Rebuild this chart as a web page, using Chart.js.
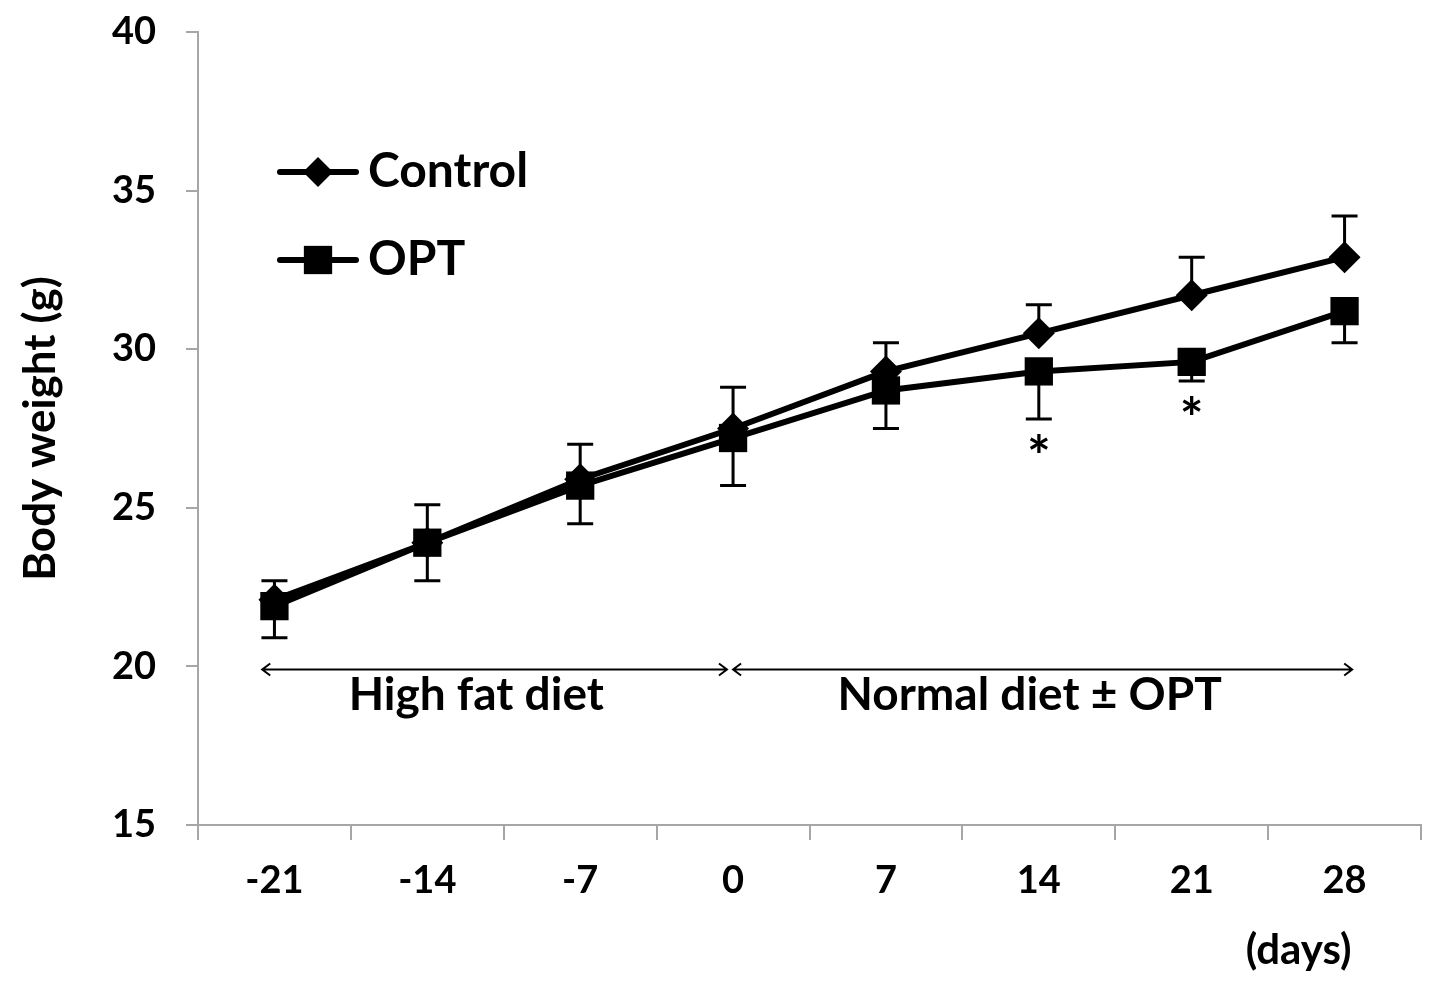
<!DOCTYPE html>
<html>
<head>
<meta charset="utf-8">
<script src="https://cdn.jsdelivr.net/npm/chart.js@4.4.0/dist/chart.umd.min.js"></script>
<style>
  html, body { margin: 0; padding: 0; background: #fff; }
  #wrap { width: 1441px; height: 989px; position: relative; }
</style>
</head>
<body>
<div id="wrap"><canvas id="weightChart"></canvas></div>
<script>
// datos
const days = ['-21', '-14', '-7', '0', '7', '14', '21', '28'];
const controlWeight = [22.1, 23.9, 25.9, 27.5, 29.3, 30.5, 31.7, 32.9];
const controlErrUp = [0.6, 1.2, 1.1, 1.3, 0.9, 0.9, 1.2, 1.3];
const optWeight = [21.9, 23.9, 25.7, 27.2, 28.7, 29.3, 29.6, 31.2];
const optErrDown = [1.0, 1.2, 1.2, 1.5, 1.2, 1.5, 0.6, 1.0];
const yTicks = [15, 20, 25, 30, 35, 40];
const significant = [
  { day: '14', y: 27.0 },
  { day: '21', y: 28.2 }
];
const phases = [
  { label: 'High fat diet', from: -0.08, to: 2.96, textAt: 1.32 },
  { label: 'Normal diet \u00B1 OPT', from: 3.0, to: 7.05, textAt: 4.94 }
];

const FONT = 'Lato, "Open Sans", sans-serif';
const AXIS_GREY = '#a6a6a6';

// barras de error + flechas + textos + leyenda
const extras = {
  id: 'extras',
  beforeDatasetsDraw(chart) {
    const ctx = chart.ctx;
    const x = chart.scales.x, y = chart.scales.y;
    ctx.save();
    ctx.strokeStyle = '#000';
    ctx.lineWidth = 3;
    const cap = 13;
    days.forEach((d, i) => {
      const px = x.getPixelForValue(i);
      // control: solo hacia arriba
      let y0 = y.getPixelForValue(controlWeight[i]);
      let y1 = y.getPixelForValue(controlWeight[i] + controlErrUp[i]);
      ctx.beginPath();
      ctx.moveTo(px, y0); ctx.lineTo(px, y1);
      ctx.moveTo(px - cap, y1); ctx.lineTo(px + cap, y1);
      ctx.stroke();
      // OPT: solo hacia abajo
      y0 = y.getPixelForValue(optWeight[i]);
      y1 = y.getPixelForValue(optWeight[i] - optErrDown[i]);
      ctx.beginPath();
      ctx.moveTo(px, y0); ctx.lineTo(px, y1);
      ctx.moveTo(px - cap, y1); ctx.lineTo(px + cap, y1);
      ctx.stroke();
    });
    ctx.restore();
  },
  afterDraw(chart) {
    const ctx = chart.ctx;
    const x = chart.scales.x, y = chart.scales.y;
    const area = chart.chartArea;
    ctx.save();

    // flechas de las fases
    const arrowY = y.getPixelForValue(19.9);
    ctx.strokeStyle = '#000';
    ctx.lineWidth = 2;
    phases.forEach(p => {
      const a = x.getPixelForValue(p.from);
      const b = x.getPixelForValue(p.to);
      ctx.beginPath();
      ctx.moveTo(a, arrowY); ctx.lineTo(b, arrowY);
      ctx.moveTo(a + 8, arrowY - 6); ctx.lineTo(a, arrowY); ctx.lineTo(a + 8, arrowY + 6);
      ctx.moveTo(b - 8, arrowY - 6); ctx.lineTo(b, arrowY); ctx.lineTo(b - 8, arrowY + 6);
      ctx.stroke();
      ctx.fillStyle = '#000';
      ctx.font = 'bold 46px ' + FONT;
      ctx.textAlign = 'center';
      ctx.textBaseline = 'middle';
      ctx.fillText(p.label, x.getPixelForValue(p.textAt), y.getPixelForValue(19.1));
    });

    // asteriscos
    ctx.font = 'bold 56px ' + FONT;
    ctx.textAlign = 'center';
    ctx.textBaseline = 'middle';
    significant.forEach(s => {
      ctx.fillText('*', x.getPixelForValue(s.day), y.getPixelForValue(s.y) + 14);
    });

    // leyenda
    const legendItems = [
      { label: 'Control', style: 'rectRot', r: 15 },
      { label: 'OPT', style: 'rect', r: 20 }
    ];
    legendItems.forEach((it, k) => {
      const ly = area.top + 140 + k * 88;
      const lx = area.left + 82;
      ctx.strokeStyle = '#000';
      ctx.lineWidth = 6;
      ctx.lineCap = 'round';
      ctx.beginPath();
      ctx.moveTo(lx, ly); ctx.lineTo(lx + 76, ly);
      ctx.stroke();
      ctx.fillStyle = '#000';
      Chart.helpers.drawPoint(ctx, { pointStyle: it.style, radius: it.r, borderWidth: 0 }, lx + 38, ly);
      ctx.fillStyle = '#000';
      ctx.font = 'bold 48px ' + FONT;
      ctx.textAlign = 'left';
      ctx.textBaseline = 'middle';
      ctx.fillText(it.label, lx + 88, ly);
    });

    // unidad del eje x
    ctx.font = 'bold 42px ' + FONT;
    ctx.textAlign = 'center';
    ctx.textBaseline = 'middle';
    ctx.fillText('(days)', x.getPixelForValue(6.7), 950);
    ctx.restore();
  }
};

const ctx = document.getElementById('weightChart').getContext('2d');
new Chart(ctx, {
  type: 'line',
  data: {
    labels: days,
    datasets: [{
      label: 'Control',
      data: controlWeight,
      borderColor: '#000',
      backgroundColor: '#000',
      borderWidth: 6,
      pointStyle: 'rectRot',
      pointRadius: 16,
      pointBorderWidth: 0,
      tension: 0
    }, {
      label: 'OPT',
      data: optWeight,
      borderColor: '#000',
      backgroundColor: '#000',
      borderWidth: 6,
      pointStyle: 'rect',
      pointRadius: 20,
      pointBorderWidth: 0,
      tension: 0
    }]
  },
  options: {
    responsive: true,
    maintainAspectRatio: false,
    animation: false,
    layout: { padding: { left: 0, right: 17, top: 0, bottom: 0 } },
    plugins: {
      legend: { display: false },
      tooltip: { enabled: false }
    },
    scales: {
      x: {
        offset: true,
        grid: {
          offset: true,
          drawOnChartArea: false,
          color: AXIS_GREY,
          lineWidth: 2,
          tickLength: 15
        },
        border: { color: AXIS_GREY, width: 2 },
        ticks: {
          color: '#000',
          padding: 18,
          maxRotation: 0,
          font: { family: FONT, size: 38, weight: 'bold' }
        },
        afterFit(scale) { scale.height = 164; }
      },
      y: {
        min: 15,
        max: 40,
        afterBuildTicks(scale) { scale.ticks = yTicks.map(v => ({ value: v })); },
        grid: {
          drawOnChartArea: false,
          color: AXIS_GREY,
          lineWidth: 2,
          tickLength: 12
        },
        border: { color: AXIS_GREY, width: 2 },
        ticks: {
          color: '#000',
          padding: 30,
          font: { family: FONT, size: 38, weight: 'bold' }
        },
        title: {
          display: true,
          text: 'Body weight (g)',
          color: '#000',
          padding: { top: 14, bottom: 0 },
          font: { family: FONT, size: 44, weight: 'bold' }
        },
        afterFit(scale) {
          scale.width = 198;
          scale.paddingTop = 32;
        }
      }
    }
  },
  plugins: [extras]
});
</script>
</body>
</html>
